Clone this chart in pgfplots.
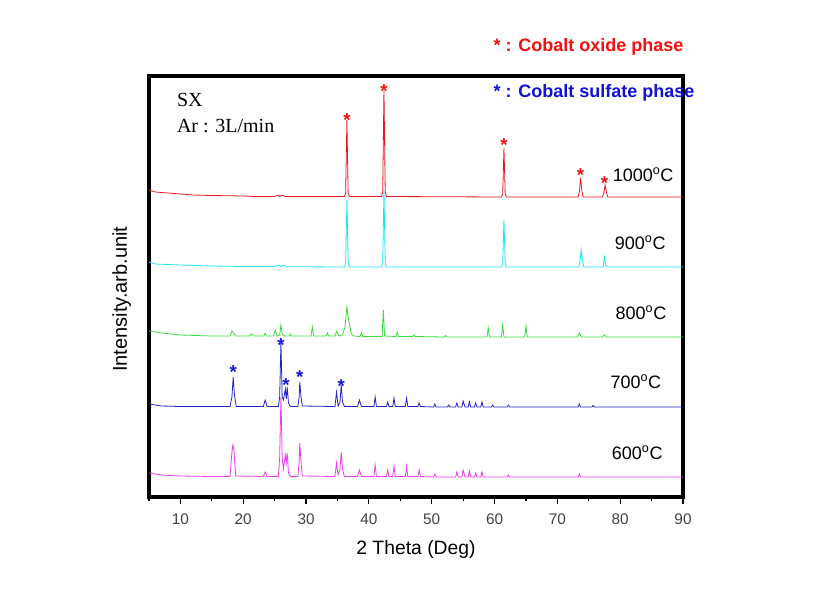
\documentclass[border=0pt]{standalone}
\usepackage{pgfplots}
\pgfplotsset{compat=1.18}
\usepackage{fontspec}
\setmainfont{Liberation Sans}
\newfontfamily\serifx{Liberation Serif}
\definecolor{cRed}{HTML}{E8161B}
\definecolor{cCyan}{HTML}{19E3F0}
\definecolor{cGreen}{HTML}{38DC38}
\definecolor{cBlue}{HTML}{2222C8}
\definecolor{cMag}{HTML}{EE3AEE}
\definecolor{lRed}{HTML}{F01010}
\definecolor{lBlue}{HTML}{1010D8}
\begin{document}
\begin{tikzpicture}
\path[use as bounding box] (0,0) rectangle (612.75pt,445.5pt);
\begin{axis}[
  at={(111.75pt,72.75pt)}, anchor=south west,
  scale only axis, width=400.5pt, height=315.75pt,
  xmin=5, xmax=90, ymin=0, ymax=421,
  ytick=\empty,
  xtick={10,20,...,90},
  minor xtick={5,15,...,85},
  xtick pos=left, tick align=outside,
  major tick length=5pt, minor tick length=3pt,
  tick style={line width=0.9pt, black},
  axis line style={line width=2.3pt},
  /pgf/number format/assume math mode=true,
  xticklabel style={font=\fontsize{11.5}{11.5}\selectfont, text=black!75, yshift=-4pt},
  xlabel={2 Theta (Deg)},
  xlabel style={font=\fontsize{14.5}{14.5}\selectfont, at={(axis description cs:0.5,-0.125)}, anchor=center},
  ylabel={Intensity.arb.unit},
  ylabel style={font=\fontsize{15}{15}\selectfont, at={(axis description cs:-0.051,0.47)}, anchor=center, rotate=0},
  clip=false,
  line width=0.6pt,
]
% 600 C
\addplot[cMag, mark=none] coordinates {(5,24)(7,22)(10,21)(15,20.5)(17.9,20.5)(18.2,45)(18.35,52)(18.5,48)(18.8,21)(23.2,20.5)(23.5,25)(23.8,20.5)(25.6,20.5)(25.8,40)(26.0,100)(26.2,40)(26.4,28)(26.7,42)(26.85,34)(27.0,44)(27.2,24)(27.5,20.5)(28.7,20.5)(28.9,35)(29.0,54)(29.2,35)(29.4,21)(34.6,20.5)(34.85,34)(35.1,22)(35.4,28)(35.6,45)(35.8,28)(36.1,20.5)(38.2,20.5)(38.5,27)(38.8,20.5)(40.8,20.5)(41.0,32)(41.2,20.5)(42.8,20.5)(43.0,27)(43.2,20.5)(43.8,20.5)(44.0,31)(44.2,20.5)(45.8,20.5)(46.0,31)(46.2,20.5)(47.8,20.5)(48.0,27)(48.2,20.5)(50.3,20)(50.5,23)(50.7,20)(53.8,20)(54.0,25)(54.2,20)(54.8,20)(55.0,27)(55.3,20)(55.8,20)(56.0,26)(56.2,20)(56.8,20)(57,24)(57.2,20)(57.8,20)(58,25)(58.2,20)(62,20)(62.2,22)(62.4,20)(73.3,20)(73.5,23)(73.7,20)(90,20)};
% 700 C
\addplot[cBlue, mark=none] coordinates {(5,93)(7,91)(10,90.5)(15,90.5)(17.9,90.5)(18.2,100)(18.4,120)(18.6,102)(18.9,90.5)(23.2,90.5)(23.5,97)(23.8,90.5)(25.6,90.5)(25.8,100)(26.0,155)(26.2,100)(26.4,97)(26.7,108)(26.85,98)(27.0,110)(27.2,94)(27.5,90.5)(28.7,90.5)(28.9,100)(29.0,115)(29.2,100)(29.4,91)(34.6,90.5)(34.85,105)(35.1,91)(35.4,95)(35.6,112)(35.8,95)(36.1,90.5)(38.2,90.5)(38.5,97)(38.8,90.5)(40.8,90.5)(41.0,100)(41.2,90.5)(42.8,90.5)(43.0,95)(43.2,90.5)(43.8,90.5)(44.0,99)(44.2,90.5)(45.8,90.5)(46.0,99)(46.2,90.5)(47.8,90.5)(48.0,94)(48.2,90.5)(50.3,90)(50.5,93)(50.7,90)(52.5,90)(52.7,92)(52.9,90)(53.8,90)(54.0,94)(54.2,90)(54.8,90)(55.0,96)(55.3,90)(55.8,90)(56.0,95)(56.2,90)(56.8,90)(57.0,94)(57.2,90)(57.8,90)(58,95)(58.2,90)(59.5,90)(59.7,92)(59.9,90)(62,90)(62.2,92)(62.4,90)(73.3,90)(73.5,93)(73.7,90)(75.5,90)(75.7,91.5)(75.9,90)(90,90)};
% 800 C
\addplot[cGreen, mark=none] coordinates {(5,166)(7,164)(10,162)(15,161)(17.9,161)(18.2,166)(18.5,164)(18.8,161)(21,161)(21.3,163)(21.6,161)(23.3,161)(23.5,164)(23.7,161)(24.8,161)(25.1,167)(25.4,161)(25.8,162)(26.0,172)(26.2,163)(26.6,161)(27.3,161)(27.5,163)(27.7,161)(30.8,161)(31.0,170)(31.2,161)(33.2,161)(33.4,164)(33.6,161)(34.6,161)(34.9,166)(35.2,161)(35.8,162)(36.2,170)(36.5,190)(36.8,176)(37.2,163)(37.6,161)(38.6,160.5)(38.8,164)(39.0,160.5)(42.1,160.5)(42.3,187)(42.5,161)(44.3,160.5)(44.5,165)(44.7,160.5)(47,160.5)(47.2,162)(47.4,160.5)(52,160)(52.2,161.5)(52.4,160)(58.8,160)(59.0,169)(59.2,160)(61.1,160)(61.3,172)(61.5,160)(64.8,160)(65.0,171)(65.2,160)(73.2,160)(73.5,164)(73.8,160)(77.2,160)(77.5,162)(77.8,160)(90,160)};
% 900 C
\addplot[cCyan, mark=none] coordinates {(5,235)(6,233)(10,232)(15,231)(20,230.5)(25,230.5)(25.6,232)(26,230.5)(26.4,232)(26.8,230.3)(36.1,230)(36.3,234)(36.5,297)(36.7,234)(36.9,230)(42.0,230)(42.2,234)(42.4,307)(42.6,234)(42.8,230)(61.1,230)(61.3,233)(61.5,277)(61.7,233)(61.9,230)(73.4,230)(73.6,236)(73.8,247)(74.0,236)(74.2,230)(77.3,230)(77.5,240)(77.7,232)(78,230)(90,230)};
% 1000 C
\addplot[cRed, mark=none] coordinates {(5,307)(6,305)(8,304)(10,303)(12,302)(15,301.5)(20,301)(22,300.5)(25,300.5)(25.5,302)(25.8,300.5)(26.3,302)(26.6,300.5)(35,300.5)(36.1,300.5)(36.3,304)(36.5,377)(36.7,304)(36.9,300.5)(42.0,300.5)(42.2,305)(42.4,407)(42.6,305)(42.8,300.5)(61.1,300)(61.3,303)(61.5,349)(61.7,303)(61.9,300)(73.3,300)(73.5,305)(73.7,319)(73.9,306)(74.1,300)(77.2,300)(77.4,304)(77.6,312)(77.8,305)(78.0,300)(90,300)};
% phase markers
\addplot[lRed, only marks, mark=text, text mark={*}, text mark as node=true,
  text mark style={font=\bfseries\fontsize{14}{14}\selectfont, text=lRed, anchor=base, inner sep=0pt}]
  coordinates {(36.5,371)(42.4,399)(61.5,346)(73.7,316)(77.5,308)};
\addplot[lBlue, only marks, mark=text, text mark={*}, text mark as node=true,
  text mark style={font=\bfseries\fontsize{14}{14}\selectfont, text=lBlue, anchor=base, inner sep=0pt}]
  coordinates {(18.4,119)(26.0,146)(26.8,106)(29.0,114)(35.6,105)};
% labels
\node[font=\fontsize{13.5}{13.5}\selectfont] at (axis cs:83.65,322) {1000\textsuperscript{o}C};
\node[font=\fontsize{13.5}{13.5}\selectfont] at (axis cs:83.2,254) {900\textsuperscript{o}C};
\node[font=\fontsize{13.5}{13.5}\selectfont] at (axis cs:83.3,184) {800\textsuperscript{o}C};
\node[font=\fontsize{13.5}{13.5}\selectfont] at (axis cs:82.5,115) {700\textsuperscript{o}C};
\node[font=\fontsize{13.5}{13.5}\selectfont] at (axis cs:82.7,44) {600\textsuperscript{o}C};
\node[font=\serifx\fontsize{15}{15}\selectfont, anchor=base west, inner sep=0pt] at (axis cs:9.4,390) {SX};
\node[font=\serifx\fontsize{15}{15}\selectfont, anchor=base west, inner sep=0pt] at (axis cs:9.4,364) {Ar : 3L/min};
\node[font=\bfseries\fontsize{13.5}{13.5}\selectfont, text=lRed, anchor=west, inner sep=0pt] at (axis cs:59.8,450) {* : Cobalt oxide phase};
\node[font=\bfseries\fontsize{13.5}{13.5}\selectfont, text=lBlue, anchor=west, inner sep=0pt] at (axis cs:59.8,404) {* : Cobalt sulfate phase};
\end{axis}
\end{tikzpicture}
\end{document}
